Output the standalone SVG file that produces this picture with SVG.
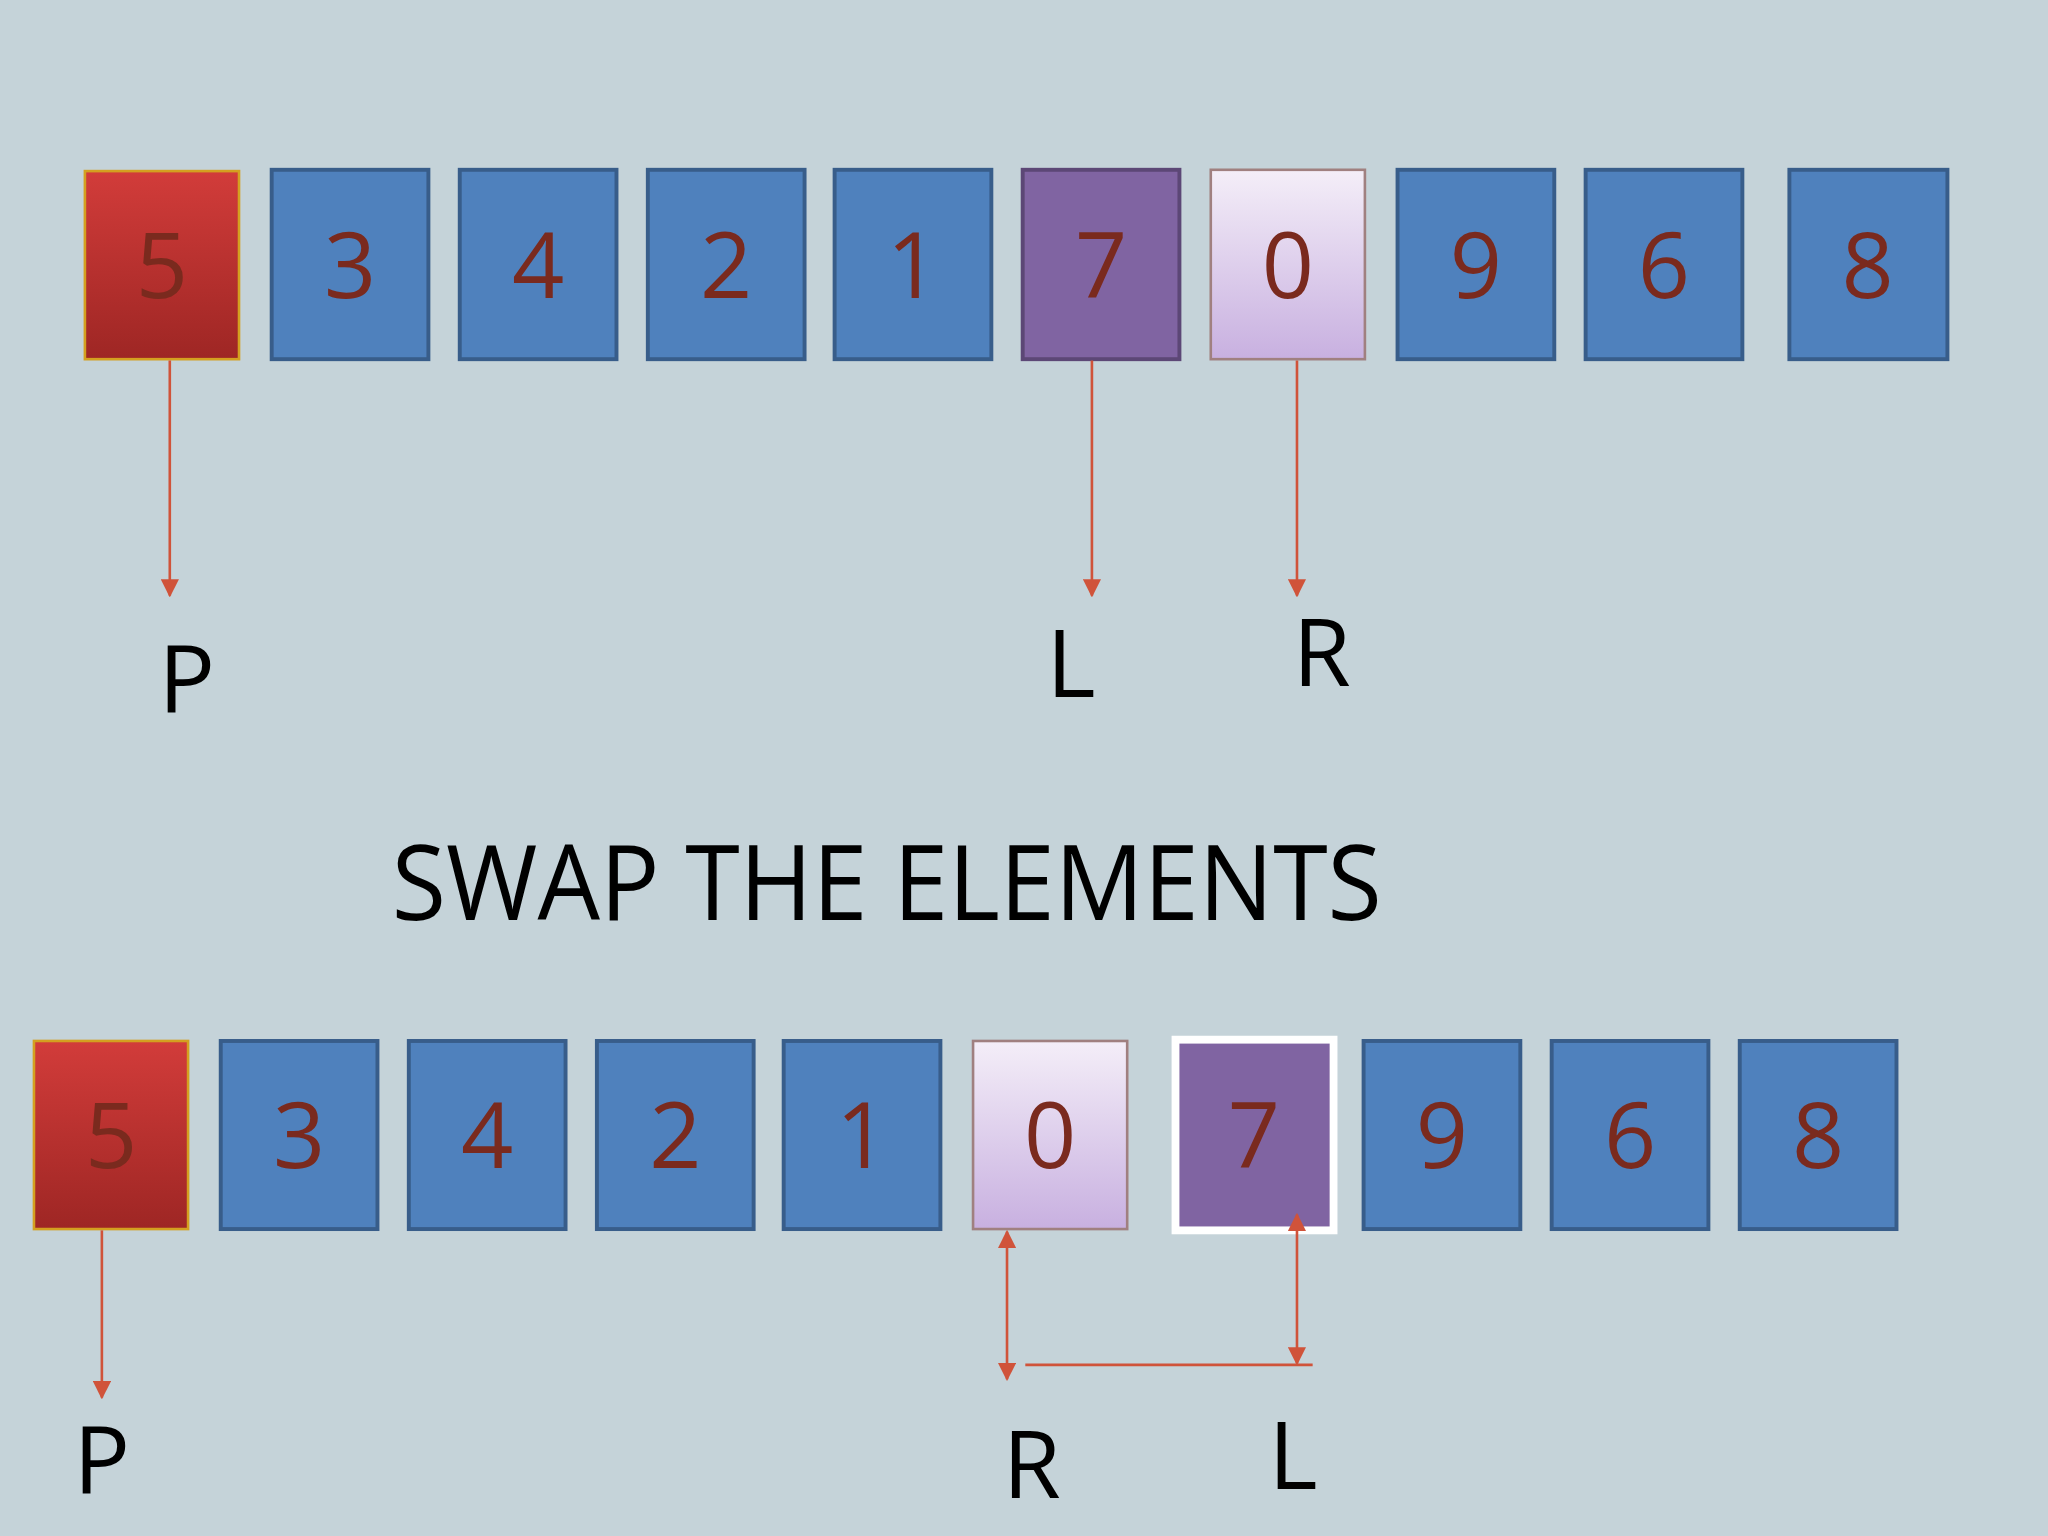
<svg xmlns="http://www.w3.org/2000/svg" width="2048" height="1536" viewBox="0 0 2048 1536">
<defs>
<linearGradient id="red" x1="0" y1="0" x2="0" y2="1"><stop offset="0" stop-color="#d23c3a"/><stop offset="1" stop-color="#9e2624"/></linearGradient>
<linearGradient id="lil" x1="0" y1="0" x2="0" y2="1"><stop offset="0" stop-color="#f4eef8"/><stop offset="1" stop-color="#c8b0e0"/></linearGradient>
<marker id="ah" viewBox="0 0 10 10" refX="9" refY="5" markerWidth="7" markerHeight="7" orient="auto-start-reverse"><path d="M0,0 L10,5 L0,10 z" fill="#d0533a"/></marker>
</defs>
<style>
.b{fill:#4f81bd;stroke:#385d8a;stroke-width:3}
.r{fill:url(#red);stroke:#d4a020;stroke-width:2}
.p{fill:#8064a2;stroke:#5c4776;stroke-width:3}
.w{fill:url(#lil);stroke:#a08080;stroke-width:2}
.d{font-family:"Open Sans",sans-serif;font-size:70px;fill:#7a2a1e;text-anchor:middle}
.l{font-family:"Open Sans",sans-serif;font-size:72px;fill:#000;text-anchor:middle}
.c{stroke:#d0533a;stroke-width:2;fill:none}
</style>
<rect width="2048" height="1536" fill="#c5d3d9"/>
<g transform="scale(1.30612)">
<g id="top">
<g id="t5"><rect class="r" x="65" y="131" width="118" height="144"/><text class="d" x="124" y="228">5</text></g>
<g id="t3"><rect class="b" x="208" y="130" width="120" height="145"/><text class="d" x="268" y="228">3</text></g>
<g id="t4"><rect class="b" x="352" y="130" width="120" height="145"/><text class="d" x="412" y="228">4</text></g>
<g id="t2"><rect class="b" x="496" y="130" width="120" height="145"/><text class="d" x="556" y="228">2</text></g>
<g id="t1"><rect class="b" x="639" y="130" width="120" height="145"/><text class="d" x="699" y="228">1</text></g>
<g id="t7"><rect class="p" x="783" y="130" width="120" height="145"/><text class="d" x="843" y="228">7</text></g>
<g id="t0"><rect class="w" x="927" y="130" width="118" height="145"/><text class="d" x="986" y="228">0</text></g>
<g id="t9"><rect class="b" x="1070" y="130" width="120" height="145"/><text class="d" x="1130" y="228">9</text></g>
<g id="t6"><rect class="b" x="1214" y="130" width="120" height="145"/><text class="d" x="1274" y="228">6</text></g>
<g id="t8"><rect class="b" x="1370" y="130" width="121" height="145"/><text class="d" x="1430" y="228">8</text></g>
</g>
<g id="bottom">
<g id="b5"><rect class="r" x="26" y="797" width="118" height="144"/><text class="d" x="85" y="894">5</text></g>
<g id="b3"><rect class="b" x="169" y="797" width="120" height="144"/><text class="d" x="229" y="894">3</text></g>
<g id="b4"><rect class="b" x="313" y="797" width="120" height="144"/><text class="d" x="373" y="894">4</text></g>
<g id="b2"><rect class="b" x="457" y="797" width="120" height="144"/><text class="d" x="517" y="894">2</text></g>
<g id="b1"><rect class="b" x="600" y="797" width="120" height="144"/><text class="d" x="660" y="894">1</text></g>
<g id="b0"><rect class="w" x="745" y="797" width="118" height="144"/><text class="d" x="804" y="894">0</text></g>
<g id="b7"><rect x="900" y="796" width="121" height="146" fill="#8064a2" stroke="#fff" stroke-width="6"/><text class="d" x="960" y="894">7</text></g>
<g id="b9"><rect class="b" x="1044" y="797" width="120" height="144"/><text class="d" x="1104" y="894">9</text></g>
<g id="b6"><rect class="b" x="1188" y="797" width="120" height="144"/><text class="d" x="1248" y="894">6</text></g>
<g id="b8"><rect class="b" x="1332" y="797" width="120" height="144"/><text class="d" x="1392" y="894">8</text></g>
</g>
<g id="connectors">
<line class="c" x1="130" y1="276" x2="130" y2="456" marker-end="url(#ah)"/>
<line class="c" x1="836" y1="276" x2="836" y2="456" marker-end="url(#ah)"/>
<line class="c" x1="993" y1="276" x2="993" y2="456" marker-end="url(#ah)"/>
<line class="c" x1="78" y1="942" x2="78" y2="1070" marker-end="url(#ah)"/>
<line class="c" x1="771" y1="943" x2="771" y2="1056" marker-start="url(#ah)" marker-end="url(#ah)"/>
<line class="c" x1="993" y1="930" x2="993" y2="1044" marker-start="url(#ah)" marker-end="url(#ah)"/>
<line class="c" x1="785" y1="1045" x2="1005" y2="1045"/>
</g>
<g id="labels">
<text class="l" x="143" y="545">P</text>
<text class="l" x="820" y="534">L</text>
<text class="l" x="1012" y="525">R</text>
<text x="300" y="704" font-family="Open Sans, sans-serif" font-size="80" textLength="758" lengthAdjust="spacingAndGlyphs">SWAP THE ELEMENTS</text>
<text class="l" x="78" y="1143">P</text>
<text class="l" x="790" y="1147">R</text>
<text class="l" x="990" y="1140">L</text>
</g>
</g>
</svg>
